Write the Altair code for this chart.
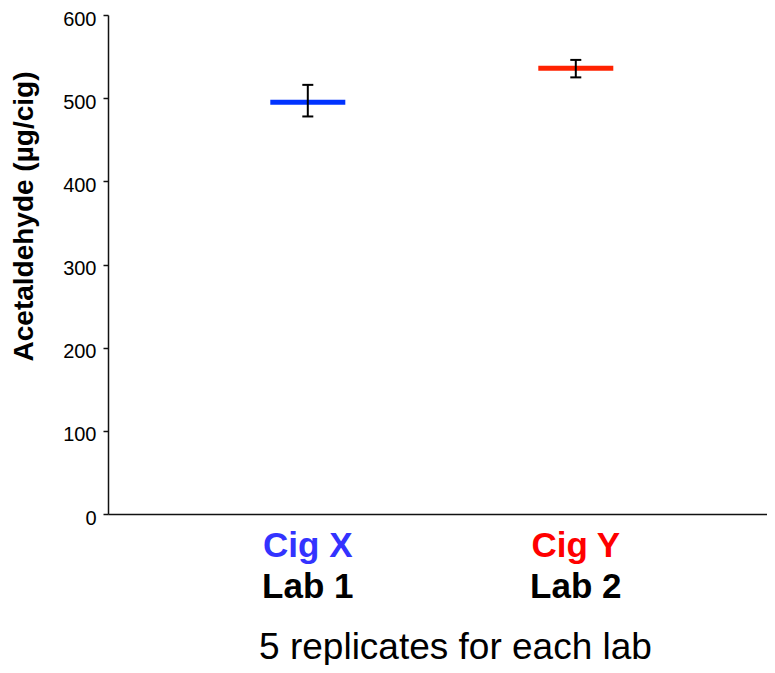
import altair as alt
import pandas as pd

cigs = ["Cig X", "Cig Y"]
labs = ["Lab 1", "Lab 2"]
means = [495, 536]
err_low = [478, 525]
err_high = [516, 546]
bar_colors = ["#0033FF", "#FF2200"]
label_colors = ["#3333FF", "#FF0000"]
y_ticks = [0, 100, 200, 300, 400, 500, 600]

df = pd.DataFrame({
    "cig": cigs,
    "lab": labs,
    "mean": means,
    "lo": err_low,
    "hi": err_high,
})

FONT = "Liberation Sans"
W, H = 659, 499

xscale = alt.Scale(type="point", padding=0.7295, align=0.511, domain=cigs)
yscale = alt.Scale(domain=[0, 600], nice=False)

x = alt.X("cig:N", scale=xscale,
          axis=alt.Axis(labels=False, ticks=False, grid=False, domainColor="#111", domainWidth=1.5,
                        title="5 replicates for each lab", titleFont=FONT, titleFontSize=37,
                        titleFontWeight="normal", titleColor="black",
                        titleX=347, titleY=144, titleBaseline="alphabetic"))
y = alt.Y("mean:Q", scale=yscale,
          axis=alt.Axis(values=y_ticks, grid=False, tickSize=5, tickWidth=1.5, tickColor="#111",
                        domainColor="#111", domainWidth=1.5, labelFont=FONT, labelFontSize=20,
                        labelColor="black", labelPadding=7, labelOffset=4,
                        title="Acetaldehyde (µg/cig)", titleFont=FONT, titleFontSize=28,
                        titleFontWeight="bold", titleColor="black", titleAngle=-90,
                        titleX=-76, titleY=201, titleBaseline="alphabetic"))

xn = alt.X("cig:N", scale=xscale)

color_bar = alt.Color("cig:N", scale=alt.Scale(domain=cigs, range=bar_colors), legend=None)
color_lab = alt.Color("cig:N", scale=alt.Scale(domain=cigs, range=label_colors), legend=None)

base = alt.Chart(df)

mean_bar = base.mark_tick(thickness=5, size=75, opacity=1).encode(x=x, y=y, color=color_bar)
err = base.mark_rule(color="black", strokeWidth=2).encode(
    x=xn, y=alt.Y("lo:Q", scale=yscale), y2="hi:Q")
cap_lo = base.mark_tick(color="black", thickness=2, size=11, opacity=1).encode(
    x=xn, y=alt.Y("lo:Q", scale=yscale))
cap_hi = base.mark_tick(color="black", thickness=2, size=11, opacity=1).encode(
    x=xn, y=alt.Y("hi:Q", scale=yscale))

lab1 = base.mark_text(font=FONT, fontSize=35, fontWeight="bold", baseline="alphabetic").encode(
    x=xn, y=alt.value(542), text="cig:N", color=color_lab)
lab2 = base.mark_text(font=FONT, fontSize=35, fontWeight="bold", baseline="alphabetic",
                      color="black").encode(
    x=xn, y=alt.value(583), text="lab:N")

chart = alt.layer(mean_bar, err, cap_lo, cap_hi, lab1, lab2).resolve_scale(color="independent").properties(
    width=W, height=H,
    background="white",
    autosize=alt.AutoSizeParams(type="none"),
    padding={"left": 100, "top": 7, "right": 0, "bottom": 151},
).configure_view(stroke="transparent", strokeWidth=0).configure_axis(grid=False)

chart.save("out.html", embed_options={"renderer": "svg", "actions": False})
